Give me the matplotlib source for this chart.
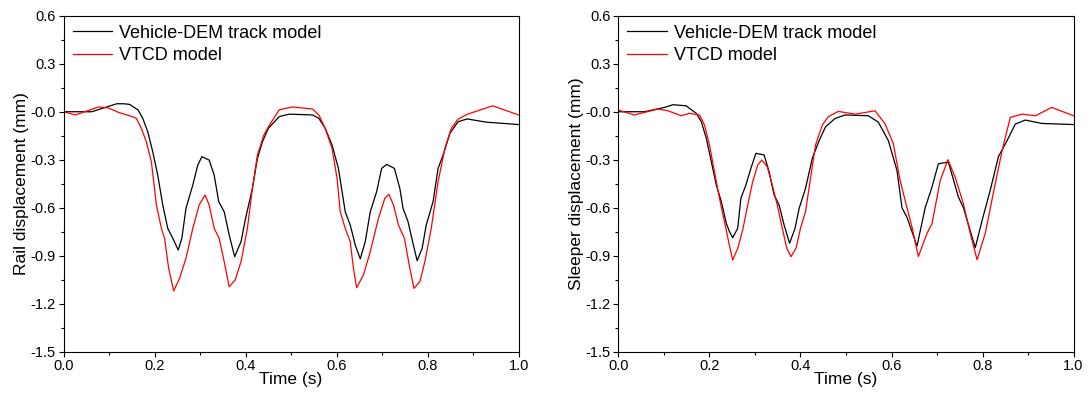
import matplotlib
matplotlib.use("Agg")
import matplotlib.pyplot as plt
from matplotlib.ticker import MultipleLocator, FormatStrFormatter

plt.rcParams.update({"font.family": ["Liberation Sans", "DejaVu Sans"]})

# Rail displacement, Vehicle-DEM track model
rail_dem_t = [0.0, 0.062, 0.117, 0.132, 0.145, 0.164, 0.174, 0.185, 0.196, 0.207,
              0.218, 0.229, 0.24, 0.252, 0.26, 0.269, 0.284, 0.295, 0.304, 0.32,
              0.331, 0.341, 0.353, 0.364, 0.376, 0.39, 0.40, 0.415, 0.426, 0.437,
              0.45, 0.474, 0.496, 0.547, 0.561, 0.575, 0.59, 0.604, 0.619, 0.63,
              0.641, 0.652, 0.663, 0.674, 0.688, 0.699, 0.71, 0.727, 0.739, 0.746,
              0.757, 0.767, 0.777, 0.788, 0.797, 0.812, 0.823, 0.834, 0.849, 0.867,
              0.887, 0.929, 1.0]
rail_dem_v = [0.0, 0.0, 0.05, 0.05, 0.046, 0.011, -0.041, -0.125, -0.25, -0.396,
              -0.583, -0.729, -0.791, -0.864, -0.791, -0.604, -0.458, -0.333, -0.281, -0.302,
              -0.396, -0.562, -0.625, -0.77, -0.906, -0.812, -0.666, -0.479, -0.291, -0.188,
              -0.104, -0.03, -0.015, -0.02, -0.041, -0.104, -0.208, -0.354, -0.625, -0.708,
              -0.833, -0.92, -0.812, -0.625, -0.5, -0.354, -0.329, -0.354, -0.479, -0.604,
              -0.687, -0.812, -0.931, -0.854, -0.708, -0.562, -0.354, -0.271, -0.135, -0.062,
              -0.045, -0.065, -0.08]

# Rail displacement, VTCD model
rail_vtcd_t = [0.0, 0.026, 0.077, 0.099, 0.121, 0.145, 0.16, 0.171, 0.182, 0.193,
               0.204, 0.215, 0.222, 0.231, 0.242, 0.255, 0.269, 0.284, 0.298, 0.311,
               0.32, 0.331, 0.342, 0.353, 0.364, 0.377, 0.39, 0.404, 0.415, 0.426,
               0.44, 0.451, 0.474, 0.503, 0.547, 0.561, 0.575, 0.59, 0.601, 0.608,
               0.619, 0.63, 0.637, 0.644, 0.659, 0.674, 0.692, 0.706, 0.715, 0.725,
               0.736, 0.749, 0.761, 0.77, 0.783, 0.794, 0.808, 0.823, 0.838, 0.852,
               0.867, 0.887, 0.914, 0.943, 1.0]
rail_vtcd_v = [0.0, -0.02, 0.03, 0.023, -0.004, -0.025, -0.041, -0.104, -0.188, -0.313,
               -0.583, -0.729, -0.791, -0.979, -1.12, -1.041, -0.916, -0.729, -0.583, -0.52,
               -0.583, -0.729, -0.791, -0.937, -1.094, -1.052, -0.937, -0.729, -0.479, -0.271,
               -0.146, -0.09, 0.012, 0.03, 0.017, -0.02, -0.104, -0.229, -0.416, -0.625,
               -0.729, -0.812, -0.979, -1.1, -1.02, -0.875, -0.666, -0.541, -0.516, -0.583,
               -0.708, -0.791, -0.979, -1.104, -1.062, -0.937, -0.729, -0.437, -0.229, -0.104,
               -0.046, -0.016, 0.01, 0.037, -0.02]

# Sleeper displacement, Vehicle-DEM track model
slp_dem_t = [0.0, 0.057, 0.101, 0.12, 0.149, 0.156, 0.171, 0.182, 0.193, 0.204,
             0.215, 0.226, 0.237, 0.244, 0.251, 0.262, 0.269, 0.28, 0.291, 0.302,
             0.32, 0.331, 0.342, 0.353, 0.364, 0.376, 0.388, 0.397, 0.411, 0.426,
             0.44, 0.455, 0.476, 0.498, 0.549, 0.571, 0.593, 0.612, 0.623, 0.634,
             0.656, 0.674, 0.689, 0.703, 0.725, 0.747, 0.758, 0.784, 0.799, 0.817,
             0.835, 0.854, 0.872, 0.894, 0.93, 1.0]
slp_dem_v = [0.0, 0.0, 0.027, 0.044, 0.037, 0.021, -0.01, -0.062, -0.166, -0.312,
             -0.458, -0.562, -0.698, -0.75, -0.787, -0.729, -0.541, -0.458, -0.354, -0.26,
             -0.27, -0.375, -0.52, -0.583, -0.708, -0.822, -0.729, -0.604, -0.479, -0.291,
             -0.187, -0.094, -0.042, -0.02, -0.025, -0.065, -0.18, -0.367, -0.60, -0.66,
             -0.84, -0.60, -0.47, -0.325, -0.315, -0.533, -0.60, -0.85, -0.68, -0.49,
             -0.28, -0.18, -0.077, -0.052, -0.073, -0.08]

# Sleeper displacement, VTCD model
slp_vtcd_t = [0.0, 0.035, 0.087, 0.109, 0.138, 0.156, 0.178, 0.189, 0.2, 0.211,
              0.222, 0.233, 0.242, 0.251, 0.262, 0.273, 0.284, 0.295, 0.306, 0.315,
              0.327, 0.338, 0.349, 0.36, 0.37, 0.379, 0.39, 0.4, 0.411, 0.422,
              0.433, 0.448, 0.461, 0.483, 0.52, 0.564, 0.586, 0.604, 0.619, 0.634,
              0.645, 0.659, 0.678, 0.689, 0.707, 0.724, 0.74, 0.758, 0.773, 0.788,
              0.806, 0.825, 0.843, 0.861, 0.887, 0.916, 0.952, 1.0]
slp_vtcd_v = [0.01, -0.02, 0.017, 0.006, -0.025, -0.01, -0.02, -0.083, -0.208, -0.375,
              -0.541, -0.687, -0.812, -0.927, -0.854, -0.739, -0.583, -0.437, -0.333, -0.302,
              -0.344, -0.458, -0.583, -0.729, -0.854, -0.906, -0.854, -0.729, -0.625, -0.416,
              -0.208, -0.083, -0.031, 0.002, -0.015, 0.006, -0.077, -0.2, -0.43, -0.60,
              -0.72, -0.905, -0.76, -0.70, -0.43, -0.30, -0.41, -0.575, -0.76, -0.925,
              -0.76, -0.49, -0.243, -0.035, -0.015, -0.025, 0.027, -0.025]

panels = [
    ("Rail displacement (mm)", rail_dem_t, rail_dem_v, rail_vtcd_t, rail_vtcd_v),
    ("Sleeper displacement (mm)", slp_dem_t, slp_dem_v, slp_vtcd_t, slp_vtcd_v),
]

fig = plt.figure(figsize=(10.9, 3.99), dpi=100)
lefts = [0.0583, 0.5674]

for left, (ylab, t1, v1, t2, v2) in zip(lefts, panels):
    ax = fig.add_axes([left, 0.1185, 0.4175, 0.842])
    ax.plot(t1, v1, color="black", lw=0.9, label="Vehicle-DEM track model")
    ax.plot(t2, v2, color="#ff0000", lw=0.9, label="VTCD model")
    ax.set_xlim(0, 1.0)
    ax.set_ylim(-1.5, 0.6)
    ax.xaxis.set_major_locator(MultipleLocator(0.2))
    ax.xaxis.set_minor_locator(MultipleLocator(0.1))
    ax.yaxis.set_major_locator(MultipleLocator(0.3))
    ax.yaxis.set_minor_locator(MultipleLocator(0.15))
    ax.xaxis.set_major_formatter(FormatStrFormatter("%.1f"))
    ax.yaxis.set_major_formatter(FormatStrFormatter("%.1f"))
    ax.tick_params(which="major", direction="out", length=3.6, width=0.8,
                   labelsize=10.5, top=False, right=False, pad=2)
    ax.tick_params(which="minor", direction="out", length=2.2, width=0.8,
                   top=False, right=False)
    for s in ax.spines.values():
        s.set_linewidth(0.8)
    ax.set_xlabel("Time (s)", fontsize=12.5, labelpad=-1)
    ax.set_ylabel(ylab, fontsize=12.5, labelpad=1)
    ax.legend(loc="upper left", frameon=False, fontsize=13, handlelength=2.2,
              handletextpad=0.35, borderaxespad=0.3, labelspacing=0.3,
              borderpad=0.2)

fig.savefig("out.png", dpi=100)
